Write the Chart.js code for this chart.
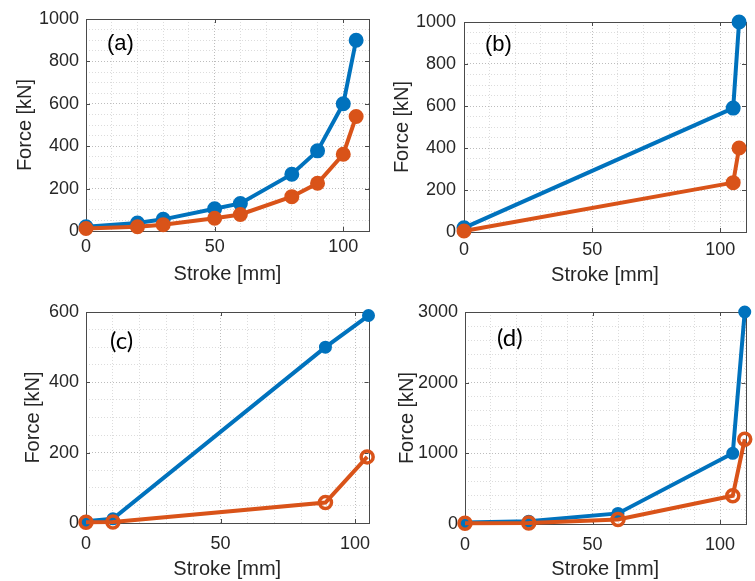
<!DOCTYPE html>
<html>
<head>
<meta charset="utf-8">
<script src="https://cdn.jsdelivr.net/npm/chart.js@4/dist/chart.umd.min.js"></script>
<style>
  body { margin: 0; background: #fff; }
  #wrap { position: relative; width: 755px; height: 581px; overflow: hidden; }
  canvas { position: absolute; }
</style>
</head>
<body>
<div id="wrap">
  <canvas id="chartA" width="378" height="291" style="left:0;top:0"></canvas>
  <canvas id="chartB" width="377" height="291" style="left:378px;top:0"></canvas>
  <canvas id="chartC" width="378" height="290" style="left:0;top:291px"></canvas>
  <canvas id="chartD" width="377" height="290" style="left:378px;top:291px"></canvas>
</div>
<script>
// (a)
const strokeA = [0, 20, 30, 50, 60, 80, 90, 100, 105];
const forceA1 = [20, 38, 55, 105, 130, 268, 378, 600, 900];
const forceA2 = [12, 20, 30, 60, 78, 162, 225, 362, 540];
// (b)
const strokeB1 = [0, 105, 107.3];
const forceB1 = [20, 590, 1000];
const strokeB2 = [0, 105, 107.3];
const forceB2 = [5, 235, 400];
// (c)
const strokeC1 = [0, 10, 89, 105];
const forceC1 = [5, 12, 500, 590];
const strokeC2 = [0, 10, 89, 104.5];
const forceC2 = [2, 3, 58, 188];
// (d)
const strokeD1 = [0, 25, 60, 105, 109.7];
const forceD1 = [20, 40, 150, 1000, 3000];
const strokeD2 = [0, 25, 60, 105, 109.7];
const forceD2 = [10, 15, 65, 400, 1200];

const BLUE = '#0072BD';
const ORANGE = '#D95319';
const TXT = '#262626';
const FONT = "'Liberation Sans', Arial, sans-serif";

const pts = (xs, ys) => xs.map((x, i) => ({ x: x, y: ys[i] }));

const plotBox = {
    id: 'plotBox',
    beforeDatasetsDraw(chart, args, opts) {
        const ctx = chart.ctx;
        const a = chart.chartArea;
        const xs = chart.scales.x, ys = chart.scales.y;
        ctx.save();
        ctx.strokeStyle = '#4a4a4a';
        ctx.lineWidth = 1;
        ctx.strokeRect(Math.round(a.left) + 0.5, Math.round(a.top) + 0.5,
            Math.round(a.right - a.left), Math.round(a.bottom - a.top));
        ctx.beginPath();
        xs.ticks.forEach(t => {
            if (t.value % opts.xMajor !== 0) return;
            const px = Math.round(xs.getPixelForValue(t.value)) + 0.5;
            ctx.moveTo(px, a.bottom); ctx.lineTo(px, a.bottom - 4);
            ctx.moveTo(px, a.top); ctx.lineTo(px, a.top + 4);
        });
        ys.ticks.forEach(t => {
            if (t.value % opts.yMajor !== 0) return;
            const py = Math.round(ys.getPixelForValue(t.value)) + 0.5;
            ctx.moveTo(a.left, py); ctx.lineTo(a.left + 4, py);
            ctx.moveTo(a.right, py); ctx.lineTo(a.right - 4, py);
        });
        ctx.stroke();
        ctx.restore();
    },
    afterDraw(chart, args, opts) {
        const ctx = chart.ctx;
        const a = chart.chartArea;
        ctx.save();
        ctx.fillStyle = '#000';
        ctx.font = opts.labelFont;
        ctx.textBaseline = 'middle';
        ctx.fillText(opts.label, a.left + opts.labelDx, a.top + opts.labelDy);
        ctx.restore();
    }
};

window.CreatePanel = (chartId, datasets, p) => {
    const ctx = document.getElementById(chartId);
    new Chart(ctx, {
        type: 'line',
        data: { datasets: datasets },
        options: {
            responsive: false,
            animation: false,
            devicePixelRatio: 1,
            layout: { padding: { top: p.padTop, right: p.padRight, left: 0, bottom: 0 } },
            plugins: {
                legend: { display: false },
                tooltip: { enabled: false },
                plotBox: {
                    xMajor: 50, yMajor: p.yMajor,
                    label: p.label, labelFont: p.labelFont,
                    labelDx: p.labelDx, labelDy: p.labelDy
                }
            },
            scales: {
                x: {
                    type: 'linear', min: 0, max: p.xMax,
                    afterFit: s => { s.height = p.xHeight; s.paddingLeft = 0; s.paddingRight = 0; },
                    ticks: {
                        stepSize: 10, autoSkip: false, maxRotation: 0, includeBounds: false,
                        padding: p.xTickPad, color: TXT,
                        font: { family: FONT, size: 18 },
                        callback: v => (v % 50 === 0 ? String(v) : '')
                    },
                    grid: {
                        drawTicks: false,
                        color: c => (c.tick && c.tick.value % 50 === 0) ? '#bdbdbd' : '#dcdcdc'
                    },
                    border: { display: false, dash: [1, 2] },
                    title: {
                        display: true, text: 'Stroke [mm]', color: TXT,
                        font: { family: FONT, size: 20, lineHeight: 1.2 },
                        padding: { top: 0, bottom: p.xTitlePad }
                    }
                },
                y: {
                    min: 0, max: p.yMax,
                    afterFit: s => { s.width = p.yWidth; s.paddingTop = 0; s.paddingBottom = 0; },
                    ticks: {
                        stepSize: p.yMinor, autoSkip: false,
                        padding: p.yTickPad, color: TXT,
                        font: { family: FONT, size: 18 },
                        callback: v => (v % p.yMajor === 0 ? String(v) : '')
                    },
                    grid: {
                        drawTicks: false,
                        color: c => (c.tick && c.tick.value % p.yMajor === 0) ? '#bdbdbd' : '#dcdcdc'
                    },
                    border: { display: false, dash: [1, 2] },
                    title: {
                        display: true, text: 'Force [kN]', color: TXT,
                        font: { family: FONT, size: 20, lineHeight: 1.2 },
                        padding: { top: p.yTitlePad, bottom: 0 }
                    }
                }
            }
        },
        plugins: [plotBox]
    });
}

const filled = (data, color, r) => ({
    data: data, borderColor: color, backgroundColor: color,
    pointBackgroundColor: color, pointBorderColor: color,
    borderWidth: 4, pointRadius: r, pointBorderWidth: 3,
    tension: 0, clip: false, order: color === BLUE ? 1 : 0
});
const openRing = (data, color) => ({
    data: data, borderColor: color, backgroundColor: 'rgba(0,0,0,0)',
    pointBackgroundColor: 'rgba(0,0,0,0)', pointBorderColor: color,
    borderWidth: 4, pointRadius: 6, pointBorderWidth: 3.5,
    tension: 0, clip: false, order: 0
});

const bigLabel = "22px " + FONT;
const calLabel = "24px Lato, 'Open Sans', sans-serif";

CreatePanel('chartA', [
    filled(pts(strokeA, forceA1), BLUE, 6),
    filled(pts(strokeA, forceA2), ORANGE, 6)
], { xMax: 110, yMax: 1000, yMinor: 50, yMajor: 200, padTop: 19, padRight: 8,
     yWidth: 86, xHeight: 60, xTickPad: 5, yTickPad: 7, xTitlePad: 5, yTitlePad: 13,
     label: '(a)', labelFont: bigLabel, labelDx: 21, labelDy: 25 });

CreatePanel('chartB', [
    filled(pts(strokeB1, forceB1), BLUE, 6),
    filled(pts(strokeB2, forceB2), ORANGE, 6)
], { xMax: 110, yMax: 1000, yMinor: 50, yMajor: 200, padTop: 22, padRight: 7,
     yWidth: 86, xHeight: 59, xTickPad: 7, yTickPad: 8, xTitlePad: 4, yTitlePad: 12,
     label: '(b)', labelFont: bigLabel, labelDx: 21, labelDy: 23 });

CreatePanel('chartC', [
    filled(pts(strokeC1, forceC1), BLUE, 5),
    openRing(pts(strokeC2, forceC2), ORANGE)
], { xMax: 105, yMax: 600, yMinor: 50, yMajor: 200, padTop: 21, padRight: 5,
     yWidth: 86, xHeight: 58, xTickPad: 10, yTickPad: 7, xTitlePad: 0, yTitlePad: 21,
     label: '(c)', labelFont: calLabel, labelDx: 24, labelDy: 29 });

CreatePanel('chartD', [
    filled(pts(strokeD1, forceD1), BLUE, 5),
    openRing(pts(strokeD2, forceD2), ORANGE)
], { xMax: 110, yMax: 3000, yMinor: 200, yMajor: 1000, padTop: 21, padRight: 3,
     yWidth: 87, xHeight: 57, xTickPad: 10, yTickPad: 7, xTitlePad: 0, yTitlePad: 17,
     label: '(d)', labelFont: calLabel, labelDx: 32, labelDy: 26 });
</script>
</body>
</html>
